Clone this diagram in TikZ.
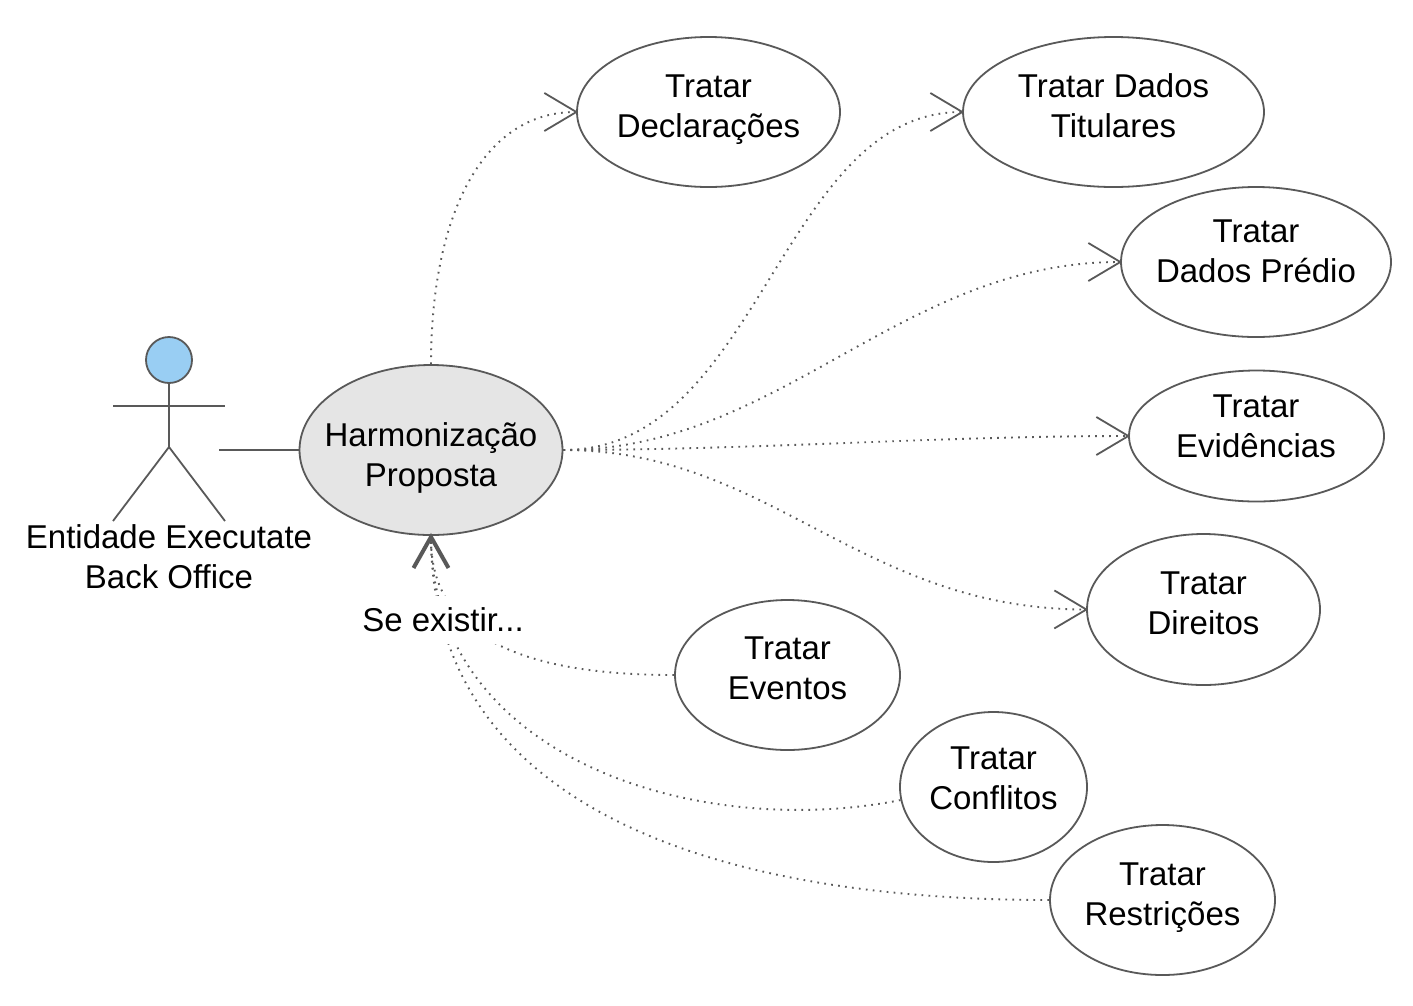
\documentclass[tikz,border=0pt]{standalone}
\usepackage{fontspec}
\setmainfont{Liberation Sans}
\usetikzlibrary{shapes.geometric,arrows.meta}
\definecolor{ink}{HTML}{595959}
\definecolor{headblue}{HTML}{99CEF3}
\tikzset{
  every picture/.style={x=1pt,y=-1pt},
  ell/.style={ellipse,draw=ink,line width=1.8pt,fill=white,inner sep=0pt},
  txt/.style={align=center,inner sep=0pt,text=black,font=\fontsize{33}{40}\selectfont},
  limb/.style={draw=ink,line width=1.8pt},
  dep/.style={draw=ink,line width=1.9pt,dash pattern=on 1.7pt off 5.3pt},
  barb/.style={-{Straight Barb[length=32pt,width=38pt,line width=1.8pt]},shorten >=-2pt},
  thickbarb/.style={-{Straight Barb[length=31pt,width=35pt,line width=4pt]},shorten >=-3pt}
}
\begin{document}
\begin{tikzpicture}
\useasboundingbox (0,0) rectangle (1413,1005);
\fill[white] (0,0) rectangle (1413,1005);

% use cases
\node[ell,fill=black!10,minimum width=263pt,minimum height=170pt] (harm) at (431,450) {};
\node[ell,minimum width=263pt,minimum height=150pt] (decl) at (708.5,112) {};
\node[ell,minimum width=301pt,minimum height=150pt] (titu) at (1113.5,112) {};
\node[ell,minimum width=270pt,minimum height=150pt] (pred) at (1256,262) {};
\node[ell,minimum width=255pt,minimum height=131pt] (evid) at (1256.5,436) {};
\node[ell,minimum width=233pt,minimum height=151pt] (dire) at (1203.5,609.5) {};
\node[ell,minimum width=225pt,minimum height=150pt] (even) at (787.5,675) {};
\node[ell,minimum width=187pt,minimum height=150pt] (conf) at (993.5,787) {};
\node[ell,minimum width=225pt,minimum height=150pt] (rest) at (1162.5,900) {};

% dependencies
\draw[dep,barb] (harm.north) .. controls (431,220) and (480,112) .. (decl.west);
\draw[dep,barb] (harm.east) .. controls (760,450) and (780,112) .. (titu.west);
\draw[dep,barb] (harm.east) .. controls (780,450) and (900,262) .. (pred.west);
\draw[dep,barb] (harm.east) .. controls (750,450) and (940,436) .. (evid.west);
\draw[dep,barb] (harm.east) .. controls (770,450) and (860,609) .. (dire.west);
\draw[dep,thickbarb] (even.west) .. controls (530,675) and (431,640) .. (harm.south);
\draw[dep] (conf.188) .. controls (700,840) and (431,760) .. (harm.south);
\draw[dep] (rest.west) .. controls (700,900) and (431,800) .. (harm.south);

% actor
\node[circle,draw=ink,line width=1.8pt,fill=headblue,minimum size=46pt,inner sep=0pt] (head) at (169,360) {};
\coordinate (hip) at (169,447);
\coordinate (armL) at (113,406);
\coordinate (armR) at (225,406);
\coordinate (legL) at (113,521);
\coordinate (legR) at (225,521);
\coordinate (assoc) at (219,450);
\draw[limb] (head.south) -- (hip);
\draw[limb] (armL) -- (armR);
\draw[limb] (legL) -- (hip) -- (legR);
\draw[limb] (assoc) -- (harm.west);

% labels
\node[txt] (harmT) at (431,458) {Harmonização\\Proposta};
\node[txt] (declT) at (708.5,110) {Tratar\\Declarações};
\node[txt] (tituT) at (1113.5,106) {Tratar Dados\\Titulares};
\node[txt] (predT) at (1256,251) {Tratar\\Dados Prédio};
\node[txt] (evidT) at (1256,426) {Tratar\\Evidências};
\node[txt] (direT) at (1203.5,603) {Tratar\\Direitos};
\node[txt] (evenT) at (787.5,668) {Tratar\\Eventos};
\node[txt] (confT) at (993.5,778) {Tratar\\Conflitos};
\node[txt] (restT) at (1162.5,898) {Tratar\\Restrições};
\node[txt] (actorT) at (169,557) {Entidade Executate\\Back Office};
\node[txt,fill=white,inner xsep=3pt,inner ysep=12pt] (seT) at (443,620) {Se existir...};
\end{tikzpicture}
\end{document}
